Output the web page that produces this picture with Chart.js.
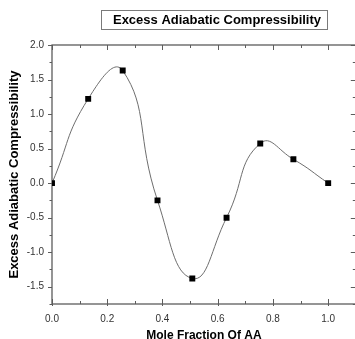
<!DOCTYPE html>
<html><head><meta charset="utf-8">
<script src="https://cdn.jsdelivr.net/npm/chart.js@4.4.0/dist/chart.umd.min.js"></script>
<style>html,body{margin:0;padding:0;overflow:hidden;background:#fff;width:355px;height:339px}canvas{display:block}</style>
</head><body>
<canvas id="c" width="360" height="345"></canvas>
<script>
const chartTitle = 'Excess Adiabatic Compressibility';
const xAxisTitle = 'Mole Fraction Of AA';
const yAxisTitle = 'Excess Adiabatic Compressibility';
const moleFraction = [0, 0.131, 0.256, 0.382, 0.508, 0.632, 0.754, 0.874, 1.0];
const excessCompressibility = [0, 1.22, 1.63, -0.25, -1.38, -0.50, 0.575, 0.345, 0.0];
const xTickValues = [0.0, 0.2, 0.4, 0.6, 0.8, 1.0];
const xMinorValues = [0.1, 0.3, 0.5, 0.7, 0.9];
const yTickValues = [-1.5, -1.0, -0.5, 0.0, 0.5, 1.0, 1.5, 2.0];
const yMinorValues = [-1.75, -1.25, -0.75, -0.25, 0.25, 0.75, 1.25, 1.75];

const FAMILY = '"Liberation Sans", Arial, sans-serif';

const framePlugin = {
  id: 'frame',
  beforeDatasetsDraw(chart) {
    const {ctx, chartArea: a, scales: {x, y}} = chart;
    ctx.save();
    ctx.strokeStyle = '#5c5c5c';
    ctx.lineWidth = 1.3;
    ctx.strokeRect(a.left, a.top, a.right - a.left, a.bottom - a.top);
    ctx.lineWidth = 1;
    const seg = (x1, y1, x2, y2) => { ctx.beginPath(); ctx.moveTo(x1, y1); ctx.lineTo(x2, y2); ctx.stroke(); };
    yTickValues.forEach(v => { const p = Math.round(y.getPixelForValue(v)) + 0.5; seg(a.left - 4, p, a.left, p); seg(a.right - 5, p, a.right, p); });
    yMinorValues.forEach(v => { const p = Math.round(y.getPixelForValue(v)) + 0.5; seg(a.left - 2.5, p, a.left, p); seg(a.right - 3, p, a.right, p); });
    xTickValues.forEach(v => { const p = Math.round(x.getPixelForValue(v)) + 0.5; seg(p, a.top, p, a.top + 5); seg(p, a.bottom + 2, p, a.bottom - 5); });
    xMinorValues.forEach(v => { const p = Math.round(x.getPixelForValue(v)) + 0.5; seg(p, a.top, p, a.top + 3); seg(p, a.bottom, p, a.bottom - 3); });
    ctx.restore();
  },
  afterDraw(chart) {
    const ctx = chart.ctx;
    ctx.save();
    ctx.font = 'bold 13px ' + FAMILY;
    ctx.fillStyle = '#000';
    ctx.textAlign = 'center';
    ctx.textBaseline = 'middle';
    ctx.fillText(chartTitle, 217, 20.5);
    ctx.strokeStyle = '#7a7a7a';
    ctx.lineWidth = 1;
    ctx.strokeRect(101.5, 10.5, 226, 19);
    ctx.restore();
  }
};

new Chart(document.getElementById('c'), {
  type: 'scatter',
  data: {
    datasets: [{
      data: moleFraction.map((v, i) => ({x: v, y: excessCompressibility[i]})),
      showLine: true,
      tension: 0.5,
      borderColor: '#6e6e6e',
      borderWidth: 1,
      pointStyle: 'rect',
      pointRadius: 4.2,
      pointBackgroundColor: '#000',
      pointBorderColor: '#000',
      pointBorderWidth: 0
    }]
  },
  options: {
    responsive: false,
    animation: false,
    devicePixelRatio: 1,
    layout: {padding: {top: 45, right: 2, left: 0, bottom: 0}},
    plugins: {legend: {display: false}, tooltip: {enabled: false}, title: {display: false}},
    scales: {
      x: {
        type: 'linear', min: 0, max: 1.1,
        afterBuildTicks: s => { s.ticks = xTickValues.map(v => ({value: v})); },
        afterFit: s => { s.height = 41; },
        grid: {display: false, drawTicks: false},
        border: {display: false},
        ticks: {padding: 9, font: {size: 10, family: FAMILY}, color: '#333', callback: v => Number(v).toFixed(1), maxRotation: 0, autoSkip: false},
        title: {display: true, text: xAxisTitle, font: {size: 12, weight: 'bold', family: FAMILY}, color: '#000', padding: {top: 0, bottom: 2}}
      },
      y: {
        type: 'linear', min: -1.75, max: 2.0,
        afterBuildTicks: s => { s.ticks = yTickValues.map(v => ({value: v})); },
        afterFit: s => { s.width = 52; },
        grid: {display: false, drawTicks: false},
        border: {display: false},
        ticks: {padding: 8, font: {size: 10, family: FAMILY}, color: '#333', callback: v => Number(v).toFixed(1), autoSkip: false},
        title: {display: true, text: yAxisTitle, font: {size: 13, weight: 'bold', family: FAMILY}, color: '#000', padding: {top: 7, bottom: 0}}
      }
    }
  },
  plugins: [framePlugin]
});
</script>
</body></html>
